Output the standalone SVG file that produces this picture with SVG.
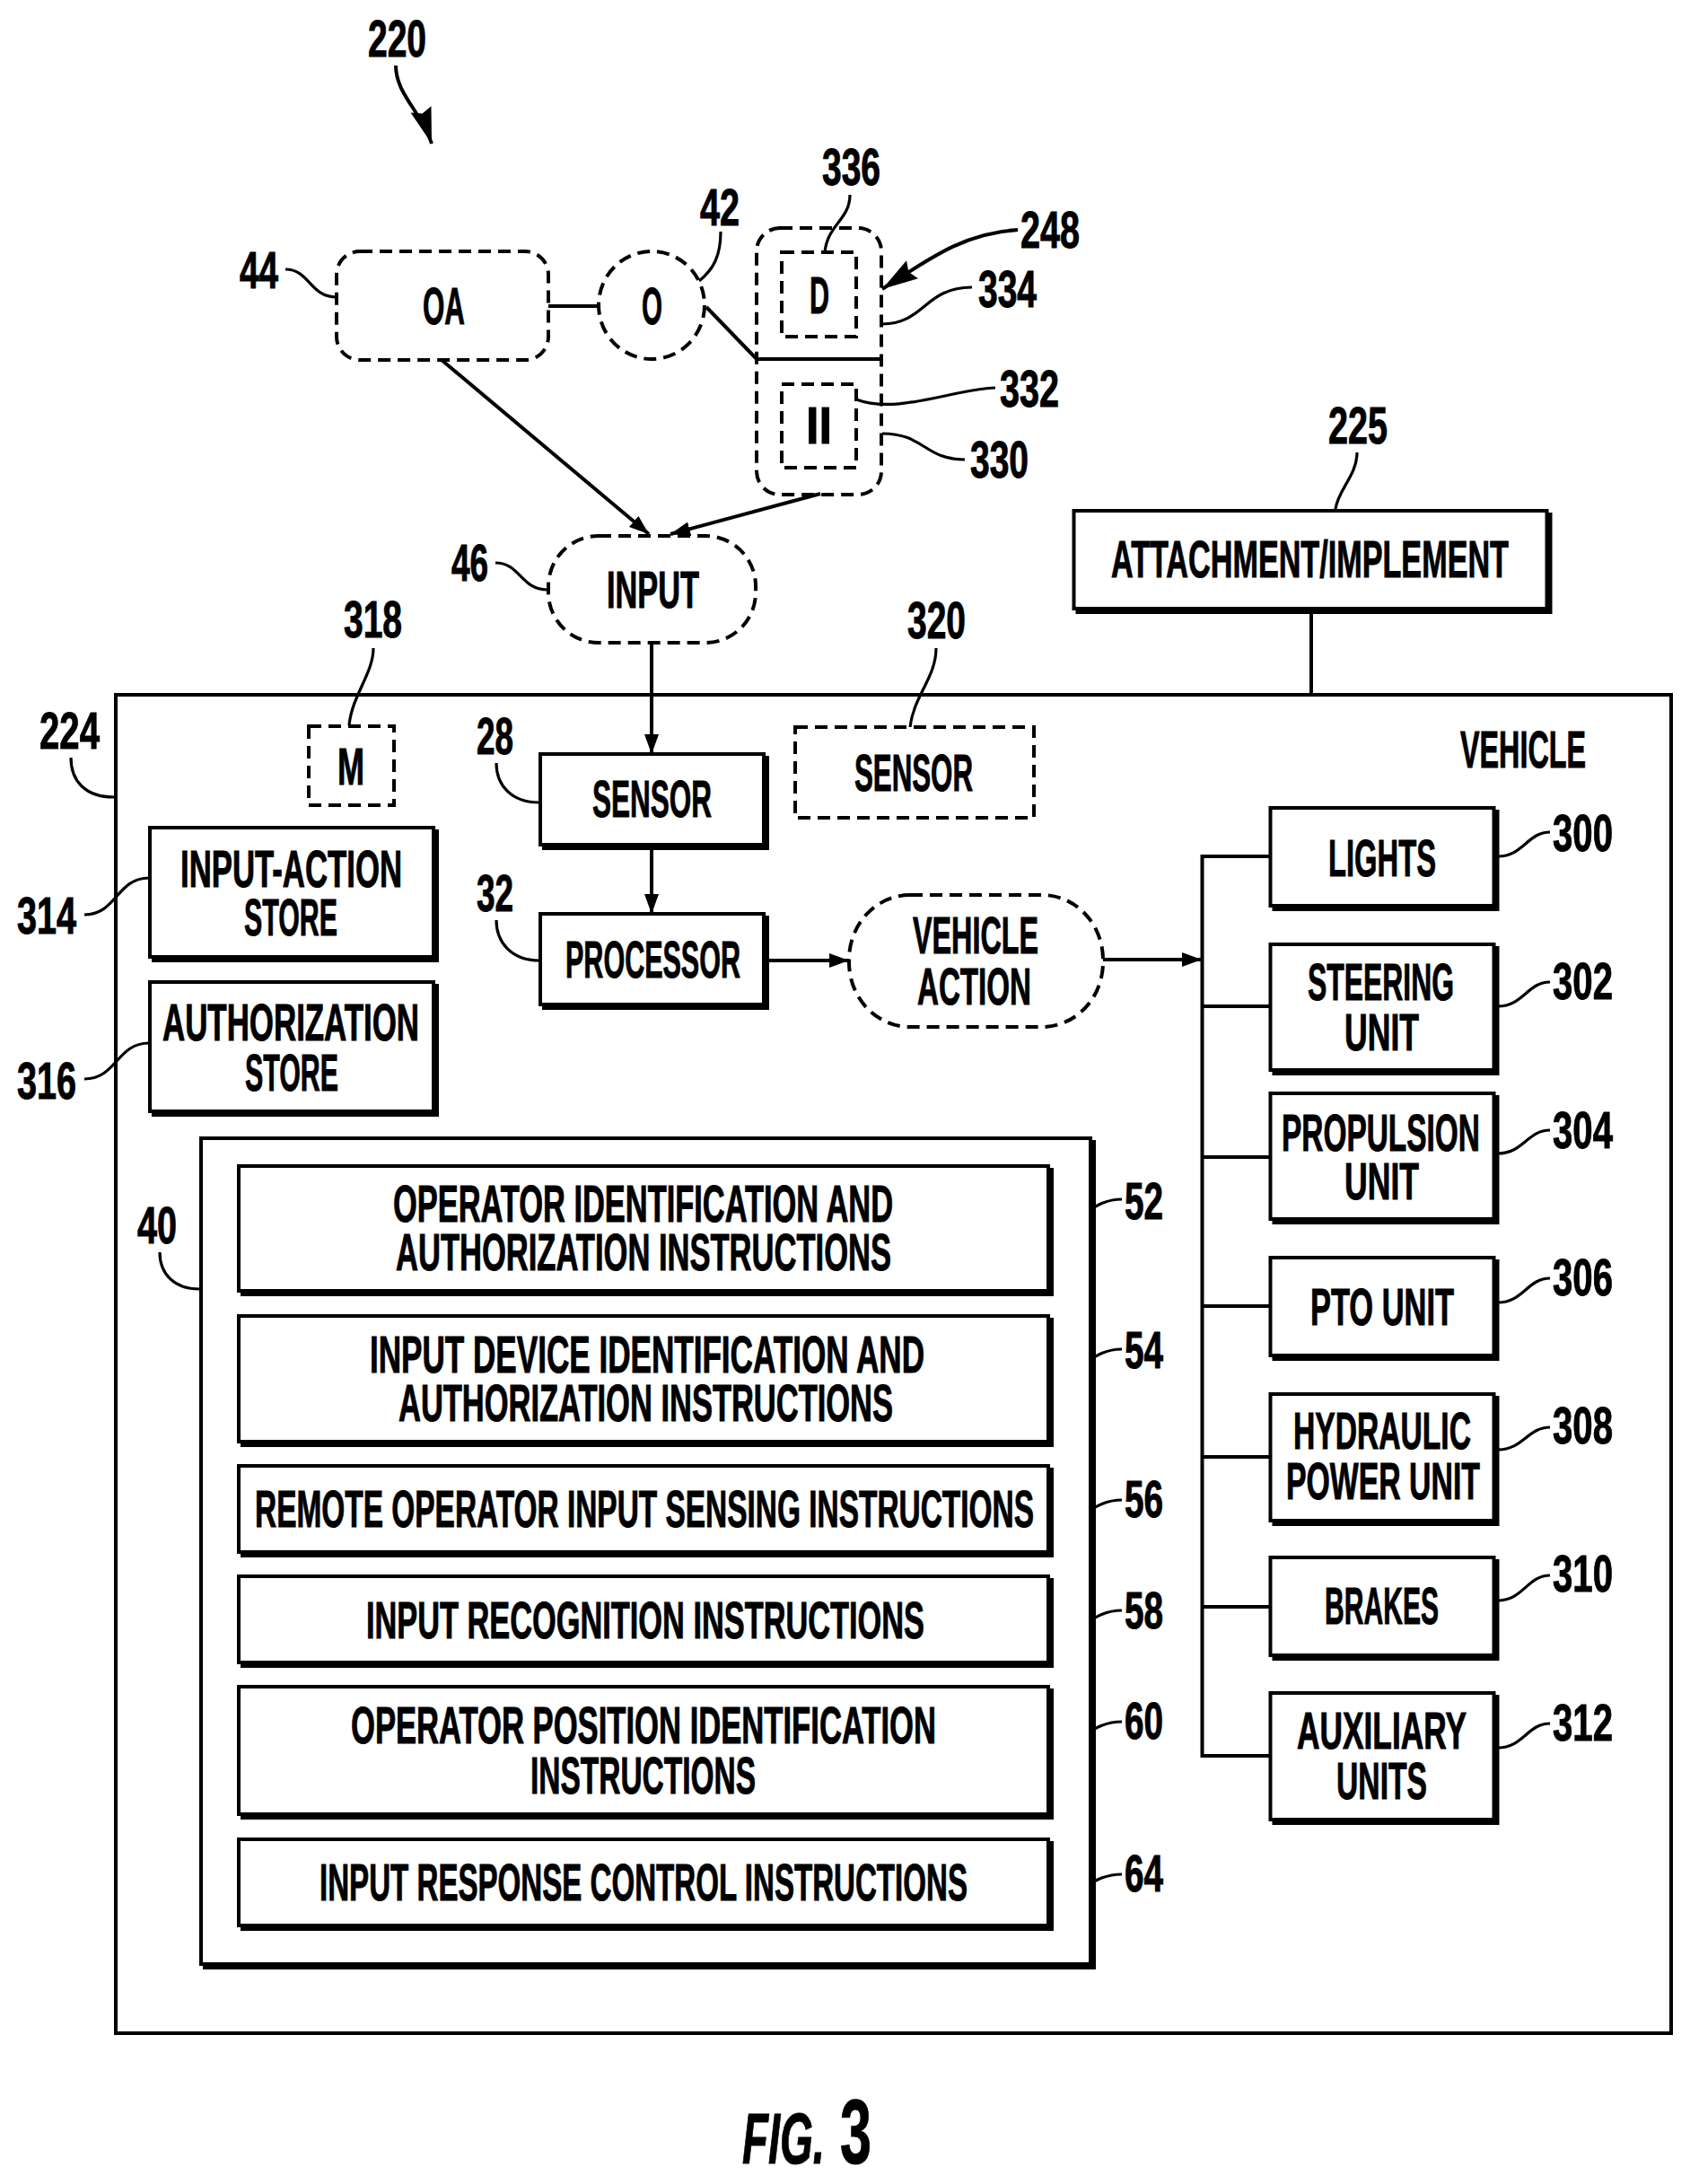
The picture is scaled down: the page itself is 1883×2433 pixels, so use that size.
<svg xmlns="http://www.w3.org/2000/svg" width="1883" height="2433" viewBox="0 0 1883 2433">
<style>
text{font-family:"Liberation Sans Narrow","Liberation Sans",Arial,sans-serif;font-weight:bold;font-size:58px;fill:#000;stroke:#000;stroke-width:1}
.box{fill:#fff;stroke:#000;stroke-width:4}
.sh{fill:#000;stroke:#000;stroke-width:4}
.dash{fill:#fff;stroke:#000;stroke-width:4;stroke-dasharray:14 8}
.dashn{fill:none;stroke:#000;stroke-width:4;stroke-dasharray:14 8}
.ln{fill:none;stroke:#000;stroke-width:4}
.ld{fill:none;stroke:#000;stroke-width:3.200}
.fig{font-style:italic;font-size:80px}
.fig3{font-size:102px}
</style>
<defs>
<marker id="ah" markerUnits="userSpaceOnUse" markerWidth="24" markerHeight="18" refX="22" refY="8" orient="auto"><path d="M0,0 L22,8 L0,16 z" fill="#000"/></marker>
<marker id="ahb" markerUnits="userSpaceOnUse" markerWidth="44" markerHeight="30" refX="40" refY="12" orient="auto"><path d="M0,0 L40,12 L0,24 L5,12 z" fill="#000"/></marker>
</defs>
<rect width="1883" height="2433" fill="#fff"/>

<g id="vehicle"><rect class="box" x="129" y="774" width="1733" height="1491"/><text x="1627" y="855" textLength="140" lengthAdjust="spacingAndGlyphs">VEHICLE</text></g>

<g id="connectors">
<path class="ln" d="M611,341 H667"/>
<path class="ln" d="M787,342 L843,400 H982"/>
<path class="ln" d="M492,401 L723,595" marker-end="url(#ah)"/>
<path class="ln" d="M914,550 L747,595" marker-end="url(#ah)"/>
<path class="ln" d="M726,716 V840" marker-end="url(#ah)"/>
<path class="ln" d="M726,945 V1018" marker-end="url(#ah)"/>
<path class="ln" d="M855,1070 H946" marker-end="url(#ah)"/>
<path class="ln" d="M1229,1069 H1339" marker-end="url(#ah)"/>
<path class="ln" d="M1461,682 V774"/>
<path class="ln" d="M1416,954 H1339.500 V1956 H1416 M1339.500,1121 H1416 M1339.500,1289 H1416 M1339.500,1455 H1416 M1339.500,1623 H1416 M1339.500,1790 H1416"/>
<path class="ln" d="M441,73 C441,105 470,125 481,160" marker-end="url(#ahb)"/>
<path class="ln" d="M1134,256 C1075,260 1040,285 983,322" marker-end="url(#ahb)"/>
<g id="leaders">
<path class="ld" d="M318,300 C345,300 345,331 375,331"/>
<path class="ld" d="M803,258 C803,285 795,300 779,313"/>
<path class="ld" d="M947,217 C947,245 922,250 919,281"/>
<path class="ld" d="M1083,320 C1030,320 1030,361 983,361"/>
<path class="ld" d="M1109,432 C1060,434 1000,462 954,445"/>
<path class="ld" d="M1075,512 C1030,512 1030,483 983,483"/>
<path class="ld" d="M552,627 C580,627 580,657 610,657"/>
<path class="ld" d="M1512,504 C1512,530 1491,545 1488,567"/>
<path class="ld" d="M79,844 C79,870 95,888 127,888"/>
<path class="ld" d="M416,722 C416,750 392,775 389,808"/>
<path class="ld" d="M1043,722 C1043,755 1018,775 1014,810"/>
<path class="ld" d="M553,850 C553,875 570,894 601,894"/>
<path class="ld" d="M553,1025 C553,1050 570,1070 601,1070"/>
<path class="ld" d="M94,1019 C130,1019 130,978 166,978"/>
<path class="ld" d="M94,1202 C130,1202 130,1162 166,1162"/>
<path class="ld" d="M178,1395 C178,1420 195,1436 222,1436"/>
<path class="ld" d="M1669,954 C1697,954 1702,927 1727,927"/>
<path class="ld" d="M1669,1121 C1697,1121 1702,1094 1727,1094"/>
<path class="ld" d="M1669,1285 C1697,1285 1702,1259 1727,1259"/>
<path class="ld" d="M1669,1451 C1697,1451 1702,1424 1727,1424"/>
<path class="ld" d="M1669,1615 C1697,1615 1702,1590 1727,1590"/>
<path class="ld" d="M1669,1783 C1697,1783 1702,1755 1727,1755"/>
<path class="ld" d="M1669,1947 C1697,1947 1702,1920 1727,1920"/>
<path class="ld" d="M1171,1365 C1205,1365 1215,1336 1250,1336"/>
<path class="ld" d="M1171,1532 C1205,1532 1215,1503 1250,1503"/>
<path class="ld" d="M1171,1699 C1205,1699 1215,1671 1250,1671"/>
<path class="ld" d="M1171,1822 C1205,1822 1215,1794 1250,1794"/>
<path class="ld" d="M1171,1945 C1205,1945 1215,1918 1250,1918"/>
<path class="ld" d="M1171,2114 C1205,2114 1215,2088 1250,2088"/>
</g>
</g>

<g id="n-oa"><rect class="dash" x="375" y="280" width="236" height="121" rx="26"/><text x="471" y="361" textLength="47" lengthAdjust="spacingAndGlyphs">OA</text></g>
<g id="n-o"><ellipse class="dash" cx="726" cy="340" rx="59" ry="60"/><text x="715" y="361" textLength="23" lengthAdjust="spacingAndGlyphs">O</text></g>
<g id="n-device"><rect class="dashn" x="843" y="254" width="139" height="297" rx="26"/></g>
<g id="n-d"><rect class="dashn" x="871" y="281" width="83" height="94"/><text x="902" y="349" textLength="22" lengthAdjust="spacingAndGlyphs">D</text></g>
<g id="n-ii"><rect class="dashn" x="871" y="428" width="83" height="93"/><text x="898" y="494" textLength="29" lengthAdjust="spacingAndGlyphs">II</text></g>
<g id="n-input"><rect class="dash" x="611" y="597" width="231" height="119" rx="56"/><text x="676" y="677" textLength="103" lengthAdjust="spacingAndGlyphs">INPUT</text></g>
<g id="n-attachment"><rect class="sh" x="1200.500" y="573" width="527" height="109"/><rect class="box" x="1196.500" y="569" width="527" height="109"/><text x="1238" y="643" textLength="443" lengthAdjust="spacingAndGlyphs">ATTACHMENT/IMPLEMENT</text></g>
<g id="n-m"><rect class="dash" x="344" y="809" width="95" height="88"/><text x="376" y="874" textLength="30" lengthAdjust="spacingAndGlyphs">M</text></g>
<g id="n-sensor"><rect class="sh" x="606" y="844" width="249" height="101"/><rect class="box" x="602" y="840" width="249" height="101"/><text x="660" y="910" textLength="133" lengthAdjust="spacingAndGlyphs">SENSOR</text></g>
<g id="n-sensor2"><rect class="dash" x="886" y="810" width="266" height="101"/><text x="952" y="881" textLength="132" lengthAdjust="spacingAndGlyphs">SENSOR</text></g>
<g id="n-processor"><rect class="sh" x="606" y="1022" width="249" height="101"/><rect class="box" x="602" y="1018" width="249" height="101"/><text x="630" y="1089" textLength="195" lengthAdjust="spacingAndGlyphs">PROCESSOR</text></g>
<g id="n-action"><rect class="dash" x="946" y="997" width="283" height="147" rx="68" ry="72"/><text x="1017" y="1062" textLength="140" lengthAdjust="spacingAndGlyphs">VEHICLE</text><text x="1022" y="1119" textLength="127" lengthAdjust="spacingAndGlyphs">ACTION</text></g>
<g id="n-input-store"><rect class="sh" x="171" y="926" width="316" height="144"/><rect class="box" x="167" y="922" width="316" height="144"/><text x="201" y="988" textLength="247" lengthAdjust="spacingAndGlyphs">INPUT-ACTION</text><text x="272" y="1042" textLength="104" lengthAdjust="spacingAndGlyphs">STORE</text></g>
<g id="n-auth-store"><rect class="sh" x="171" y="1098" width="316" height="144"/><rect class="box" x="167" y="1094" width="316" height="144"/><text x="181" y="1159" textLength="286" lengthAdjust="spacingAndGlyphs">AUTHORIZATION</text><text x="273" y="1215" textLength="104" lengthAdjust="spacingAndGlyphs">STORE</text></g>

<g id="n-lights"><rect class="sh" x="1419.500" y="904" width="249" height="109"/><rect class="box" x="1415.500" y="900" width="249" height="109"/><text x="1480" y="976" textLength="120" lengthAdjust="spacingAndGlyphs">LIGHTS</text></g>
<g id="n-steering"><rect class="sh" x="1419.500" y="1056" width="249" height="140"/><rect class="box" x="1415.500" y="1052" width="249" height="140"/><text x="1457" y="1114" textLength="163" lengthAdjust="spacingAndGlyphs">STEERING</text><text x="1498" y="1170" textLength="83" lengthAdjust="spacingAndGlyphs">UNIT</text></g>
<g id="n-propulsion"><rect class="sh" x="1419.500" y="1222" width="249" height="140"/><rect class="box" x="1415.500" y="1218" width="249" height="140"/><text x="1428" y="1282" textLength="221" lengthAdjust="spacingAndGlyphs">PROPULSION</text><text x="1498" y="1336" textLength="83" lengthAdjust="spacingAndGlyphs">UNIT</text></g>
<g id="n-pto"><rect class="sh" x="1419.500" y="1405" width="249" height="109"/><rect class="box" x="1415.500" y="1401" width="249" height="109"/><text x="1460" y="1476" textLength="160" lengthAdjust="spacingAndGlyphs">PTO UNIT</text></g>
<g id="n-hydraulic"><rect class="sh" x="1419.500" y="1557" width="249" height="141"/><rect class="box" x="1415.500" y="1553" width="249" height="141"/><text x="1441" y="1614" textLength="198" lengthAdjust="spacingAndGlyphs">HYDRAULIC</text><text x="1433" y="1670" textLength="216" lengthAdjust="spacingAndGlyphs">POWER UNIT</text></g>
<g id="n-brakes"><rect class="sh" x="1419.500" y="1739" width="249" height="109"/><rect class="box" x="1415.500" y="1735" width="249" height="109"/><text x="1476" y="1809" textLength="127" lengthAdjust="spacingAndGlyphs">BRAKES</text></g>
<g id="n-aux"><rect class="sh" x="1419.500" y="1890" width="249" height="141"/><rect class="box" x="1415.500" y="1886" width="249" height="141"/><text x="1445" y="1948" textLength="189" lengthAdjust="spacingAndGlyphs">AUXILIARY</text><text x="1489" y="2004" textLength="101" lengthAdjust="spacingAndGlyphs">UNITS</text></g>

<g id="n-40"><rect class="sh" x="228" y="1272" width="991" height="920"/><rect class="box" x="224" y="1268" width="991" height="920"/></g>
<g id="n-52"><rect class="sh" x="270" y="1303" width="902" height="139"/><rect class="box" x="266" y="1299" width="902" height="139"/><text x="438" y="1361" textLength="557" lengthAdjust="spacingAndGlyphs">OPERATOR IDENTIFICATION AND</text><text x="441" y="1415" textLength="552" lengthAdjust="spacingAndGlyphs">AUTHORIZATION INSTRUCTIONS</text></g>
<g id="n-54"><rect class="sh" x="270" y="1470" width="902" height="140"/><rect class="box" x="266" y="1466" width="902" height="140"/><text x="412" y="1529" textLength="618" lengthAdjust="spacingAndGlyphs">INPUT DEVICE IDENTIFICATION AND</text><text x="444" y="1583" textLength="551" lengthAdjust="spacingAndGlyphs">AUTHORIZATION INSTRUCTIONS</text></g>
<g id="n-56"><rect class="sh" x="270" y="1637" width="902" height="96"/><rect class="box" x="266" y="1633" width="902" height="96"/><text x="284" y="1701" textLength="868" lengthAdjust="spacingAndGlyphs">REMOTE OPERATOR INPUT SENSING INSTRUCTIONS</text></g>
<g id="n-58"><rect class="sh" x="270" y="1760" width="902" height="96"/><rect class="box" x="266" y="1756" width="902" height="96"/><text x="408" y="1825" textLength="622" lengthAdjust="spacingAndGlyphs">INPUT RECOGNITION INSTRUCTIONS</text></g>
<g id="n-60"><rect class="sh" x="270" y="1883" width="902" height="142"/><rect class="box" x="266" y="1879" width="902" height="142"/><text x="391" y="1942" textLength="652" lengthAdjust="spacingAndGlyphs">OPERATOR POSITION IDENTIFICATION</text><text x="591" y="1998" textLength="251" lengthAdjust="spacingAndGlyphs">INSTRUCTIONS</text></g>
<g id="n-64"><rect class="sh" x="270" y="2053" width="902" height="96"/><rect class="box" x="266" y="2049" width="902" height="96"/><text x="356" y="2117" textLength="722" lengthAdjust="spacingAndGlyphs">INPUT RESPONSE CONTROL INSTRUCTIONS</text></g>

<g id="refs">
<text x="410" y="63" textLength="65" lengthAdjust="spacingAndGlyphs">220</text>
<text x="267" y="321" textLength="43" lengthAdjust="spacingAndGlyphs">44</text>
<text x="780" y="251" textLength="44" lengthAdjust="spacingAndGlyphs">42</text>
<text x="916" y="206" textLength="65" lengthAdjust="spacingAndGlyphs">336</text>
<text x="1137" y="276" textLength="66" lengthAdjust="spacingAndGlyphs">248</text>
<text x="1090" y="342" textLength="65" lengthAdjust="spacingAndGlyphs">334</text>
<text x="1114" y="453" textLength="66" lengthAdjust="spacingAndGlyphs">332</text>
<text x="1081" y="532" textLength="65" lengthAdjust="spacingAndGlyphs">330</text>
<text x="503" y="647" textLength="41" lengthAdjust="spacingAndGlyphs">46</text>
<text x="1480" y="494" textLength="66" lengthAdjust="spacingAndGlyphs">225</text>
<text x="44" y="834" textLength="67" lengthAdjust="spacingAndGlyphs">224</text>
<text x="383" y="710" textLength="65" lengthAdjust="spacingAndGlyphs">318</text>
<text x="1011" y="711" textLength="65" lengthAdjust="spacingAndGlyphs">320</text>
<text x="531" y="840" textLength="41" lengthAdjust="spacingAndGlyphs">28</text>
<text x="531" y="1015" textLength="41" lengthAdjust="spacingAndGlyphs">32</text>
<text x="19" y="1040" textLength="66" lengthAdjust="spacingAndGlyphs">314</text>
<text x="19" y="1224" textLength="66" lengthAdjust="spacingAndGlyphs">316</text>
<text x="153" y="1385" textLength="44" lengthAdjust="spacingAndGlyphs">40</text>
<text x="1730" y="948" textLength="67" lengthAdjust="spacingAndGlyphs">300</text>
<text x="1730" y="1113" textLength="67" lengthAdjust="spacingAndGlyphs">302</text>
<text x="1730" y="1279" textLength="67" lengthAdjust="spacingAndGlyphs">304</text>
<text x="1730" y="1443" textLength="67" lengthAdjust="spacingAndGlyphs">306</text>
<text x="1730" y="1608" textLength="67" lengthAdjust="spacingAndGlyphs">308</text>
<text x="1730" y="1773" textLength="67" lengthAdjust="spacingAndGlyphs">310</text>
<text x="1730" y="1939" textLength="67" lengthAdjust="spacingAndGlyphs">312</text>
<text x="1253" y="1358" textLength="43" lengthAdjust="spacingAndGlyphs">52</text>
<text x="1253" y="1524" textLength="43" lengthAdjust="spacingAndGlyphs">54</text>
<text x="1253" y="1690" textLength="43" lengthAdjust="spacingAndGlyphs">56</text>
<text x="1253" y="1814" textLength="43" lengthAdjust="spacingAndGlyphs">58</text>
<text x="1253" y="1937" textLength="43" lengthAdjust="spacingAndGlyphs">60</text>
<text x="1253" y="2107" textLength="43" lengthAdjust="spacingAndGlyphs">64</text>
</g>
<g id="caption">
<text class="fig" x="827" y="2410" textLength="92" lengthAdjust="spacingAndGlyphs">FIG.</text>
<text class="fig3" x="936" y="2410" textLength="35" lengthAdjust="spacingAndGlyphs">3</text>
</g>
</svg>
